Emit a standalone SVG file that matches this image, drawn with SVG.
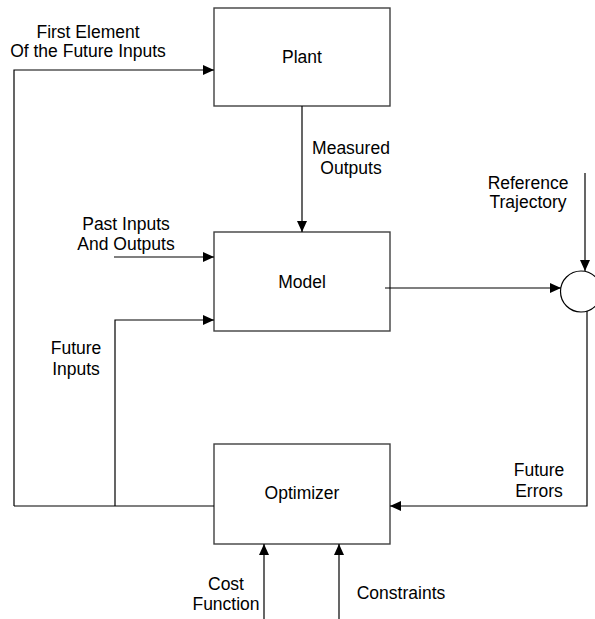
<svg xmlns="http://www.w3.org/2000/svg" width="595" height="619" viewBox="0 0 595 619">
<defs>
<marker id="arr" markerUnits="userSpaceOnUse" markerWidth="12" markerHeight="10" refX="11" refY="5" orient="auto">
<path d="M0,0 L11,5 L0,10 Z" fill="#000"/>
</marker>
<style>
.box{fill:none;stroke:#404040;stroke-width:1.4}
.ln{fill:none;stroke:#000;stroke-width:1.2}
.ar{marker-end:url(#arr)}
text{font-family:"Liberation Sans",Arial,sans-serif;font-size:17.5px;fill:#000;text-anchor:middle}
</style>
</defs>
<rect width="595" height="619" fill="#fff"/>
<g id="plant">
<rect class="box" x="214" y="8" width="176" height="98"/>
<text x="302" y="63">Plant</text>
</g>
<g id="model">
<rect class="box" x="214" y="232" width="176" height="99"/>
<text x="302" y="288">Model</text>
</g>
<g id="optimizer">
<rect class="box" x="214" y="444" width="176" height="100"/>
<text x="302" y="499">Optimizer</text>
</g>
<g id="sum">
<circle cx="581" cy="291.5" r="20.5" fill="#fff" stroke="#000" stroke-width="1.2"/>
</g>
<g id="connectors">
<polyline class="ln ar" points="14,506 14,70 214,70"/>
<polyline class="ln ar" points="115,506 115,320 214,320"/>
<line class="ln" x1="14" y1="506" x2="214" y2="506"/>
<line class="ln ar" x1="114" y1="257" x2="214" y2="257"/>
<line class="ln ar" x1="302" y1="106" x2="302" y2="232"/>
<line class="ln ar" x1="385" y1="288" x2="561" y2="288"/>
<line class="ln ar" x1="585" y1="173" x2="585" y2="271"/>
<polyline class="ln ar" points="587,311 587,506 390,506"/>
<line class="ln ar" x1="264" y1="619" x2="264" y2="544"/>
<line class="ln ar" x1="339" y1="619" x2="339" y2="544"/>
</g>
<g id="labels">
<text x="88" y="38">First Element</text>
<text x="88" y="57">Of the Future Inputs</text>
<text x="351" y="154">Measured</text>
<text x="351" y="174">Outputs</text>
<text x="126" y="230">Past Inputs</text>
<text x="126" y="250">And Outputs</text>
<text x="528" y="189">Reference</text>
<text x="528" y="208">Trajectory</text>
<text x="76" y="354">Future</text>
<text x="76" y="375">Inputs</text>
<text x="539" y="476">Future</text>
<text x="539" y="497">Errors</text>
<text x="226" y="590">Cost</text>
<text x="226" y="610">Function</text>
<text x="401" y="599">Constraints</text>
</g>
</svg>
